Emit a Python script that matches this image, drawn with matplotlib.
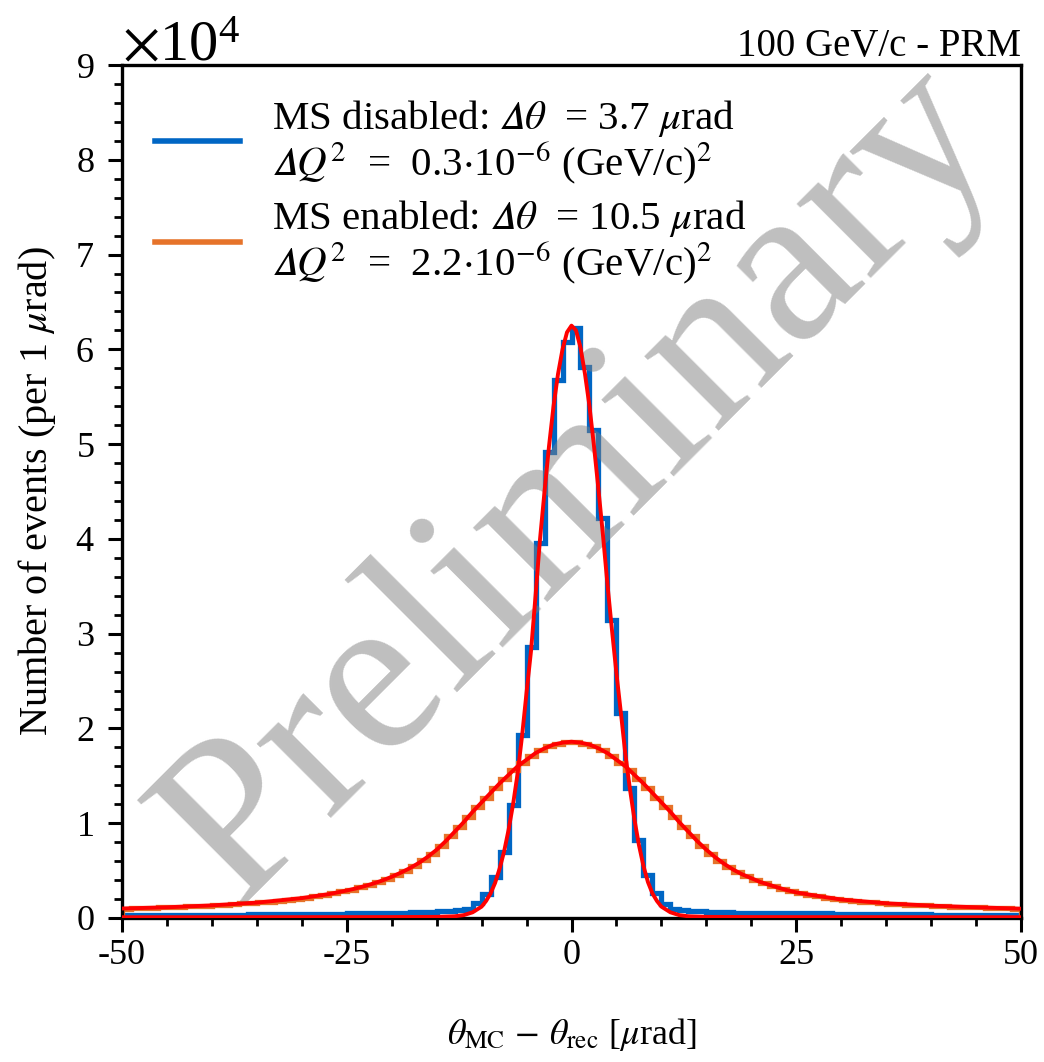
import numpy as np
import matplotlib
matplotlib.use("Agg")
import matplotlib.pyplot as plt
from matplotlib.lines import Line2D

# ---------------- data (counts in units of 1e4, bins of 1 urad) ----------------
SCALE = 1e4
BIN_EDGES = list(range(-50, 51))

# MS disabled (blue), bins [-50,-49] ... [49,50]
BLUE = [0.03, 0.03, 0.03, 0.03, 0.03, 0.03, 0.03, 0.03, 0.03, 0.03,
        0.03, 0.03, 0.03, 0.03, 0.04, 0.04, 0.04, 0.04, 0.04, 0.04,
        0.04, 0.04, 0.04, 0.04, 0.04, 0.05, 0.05, 0.05, 0.05, 0.05,
        0.05, 0.05, 0.06, 0.06, 0.06, 0.07, 0.07, 0.08, 0.10, 0.16,
        0.25, 0.43, 0.70, 1.19, 1.93, 2.86, 3.96, 4.92, 5.68, 6.08,
        6.22, 5.81, 5.15, 4.22, 3.14, 2.16, 1.37, 0.82, 0.45, 0.26,
        0.15, 0.10, 0.08, 0.07, 0.07, 0.06, 0.06, 0.06, 0.05, 0.05,
        0.05, 0.05, 0.05, 0.05, 0.05, 0.05, 0.05, 0.05, 0.05, 0.04,
        0.04, 0.04, 0.04, 0.04, 0.04, 0.04, 0.04, 0.04, 0.04, 0.04,
        0.03, 0.03, 0.03, 0.03, 0.03, 0.03, 0.03, 0.03, 0.03, 0.03]

# MS enabled (orange)
ORANGE = [0.100, 0.103, 0.106, 0.109, 0.112, 0.115, 0.119, 0.123, 0.127, 0.131,
          0.136, 0.141, 0.147, 0.153, 0.159, 0.166, 0.174, 0.183, 0.193, 0.204,
          0.216, 0.230, 0.245, 0.262, 0.280, 0.300, 0.325, 0.350, 0.380, 0.415,
          0.455, 0.500, 0.550, 0.610, 0.680, 0.760, 0.860, 0.960, 1.070, 1.170,
          1.270, 1.370, 1.470, 1.560, 1.640, 1.710, 1.770, 1.810, 1.840, 1.860,
          1.860, 1.840, 1.810, 1.770, 1.710, 1.640, 1.560, 1.470, 1.370, 1.270,
          1.170, 1.070, 0.960, 0.860, 0.760, 0.680, 0.600, 0.540, 0.490, 0.440,
          0.400, 0.365, 0.335, 0.305, 0.280, 0.260, 0.245, 0.230, 0.215, 0.200,
          0.190, 0.180, 0.172, 0.165, 0.158, 0.152, 0.146, 0.141, 0.136, 0.132,
          0.128, 0.124, 0.120, 0.117, 0.114, 0.111, 0.108, 0.105, 0.102, 0.099]

# fit curves (red), sampled
FIT_NARROW_X = [-50, -30, -20, -15, -13, -12, -11, -10, -9.5, -9, -8.5, -8, -7.5, -7,
                -6.5, -6, -5.5, -5, -4.5, -4, -3.5, -3, -2.5, -2, -1.5, -1, -0.5, 0,
                0.5, 1, 1.5, 2, 2.5, 3, 3.5, 4, 4.5, 5, 5.5, 6, 6.5, 7, 7.5, 8,
                8.5, 9, 9.5, 10, 11, 12, 13, 15, 20, 30, 50]
FIT_NARROW_Y = [0.008, 0.009, 0.010, 0.012, 0.018, 0.03, 0.06, 0.12, 0.18, 0.26, 0.37, 0.52, 0.70, 0.93,
                1.20, 1.52, 1.92, 2.38, 2.82, 3.40, 4.00, 4.50, 4.98, 5.40, 5.74, 6.00, 6.18, 6.25,
                6.20, 6.02, 5.74, 5.40, 4.98, 4.52, 4.04, 3.52, 3.04, 2.58, 2.16, 1.72, 1.36, 1.04, 0.77, 0.55,
                0.38, 0.26, 0.18, 0.12, 0.06, 0.03, 0.018, 0.012, 0.010, 0.009, 0.008]

FIT_WIDE_X = [-50, -45, -40, -35, -30, -27, -25, -24, -23, -22, -21, -20, -19, -18, -17, -16,
              -15, -14, -13, -12, -11, -10, -9, -8, -7, -6, -5, -4, -3, -2, -1, 0,
              1, 2, 3, 4, 5, 6, 7, 8, 9, 10, 11, 12, 13, 14, 15, 16, 17, 18, 19, 20,
              21, 22, 23, 24, 25, 27, 30, 35, 40, 45, 50]
FIT_WIDE_Y = [0.100, 0.113, 0.133, 0.162, 0.210, 0.252, 0.290, 0.312, 0.337, 0.365, 0.397, 0.435, 0.478, 0.525, 0.580, 0.645,
              0.720, 0.810, 0.910, 1.010, 1.120, 1.220, 1.320, 1.420, 1.510, 1.600, 1.670, 1.740, 1.790, 1.830, 1.850, 1.860,
              1.850, 1.830, 1.790, 1.740, 1.670, 1.600, 1.510, 1.420, 1.320, 1.220, 1.120, 1.010, 0.910, 0.810, 0.720, 0.640, 0.570, 0.510, 0.460, 0.420,
              0.380, 0.350, 0.320, 0.293, 0.270, 0.238, 0.195, 0.155, 0.130, 0.113, 0.098]

DELTA = "\U0001D6E5"  # mathematical italic capital delta
LABEL_BLUE = ("MS disabled: $" + DELTA + "\\theta$  = 3.7 $\\mu$rad\n"
              "$" + DELTA + "Q^2$  =  0.3$\\cdot$10$^{-6}$ (GeV/c)$^2$")
LABEL_ORANGE = ("MS enabled: $" + DELTA + "\\theta$  = 10.5 $\\mu$rad\n"
                "$" + DELTA + "Q^2$  =  2.2$\\cdot$10$^{-6}$ (GeV/c)$^2$")
XTICKS = [-50, -25, 0, 25, 50]
XTICKLABELS = ["-50", "-25", "0", "25", "50"]

# ---------------- style ----------------
plt.rcParams['font.family'] = ['Liberation Serif', 'DejaVu Serif']
plt.rcParams['mathtext.fontset'] = 'stix'
plt.rcParams['axes.unicode_minus'] = False

C_BLUE = '#0066c4'
C_ORANGE = '#e6732a'

fig = plt.figure(figsize=(10.44, 10.62), dpi=100)
ax = fig.add_axes([122/1044, 1-918/1062, 899/1044, 853/1062])

scale = np.array(SCALE)
ax.stairs(np.array(BLUE) * scale, BIN_EDGES, color=C_BLUE, lw=3.8, zorder=2)
ax.stairs(np.array(ORANGE) * scale, BIN_EDGES, color=C_ORANGE, lw=3.8, zorder=2)

ax.text(0.51, 0.508, "Preliminary", transform=ax.transAxes, rotation=45,
        ha='center', va='center', fontsize=165, color='#808080', alpha=0.5,
        zorder=3, rotation_mode='anchor')

ax.plot(FIT_NARROW_X, np.array(FIT_NARROW_Y) * scale, color='#ff0000', lw=2.8, zorder=4)
ax.plot(FIT_WIDE_X, np.array(FIT_WIDE_Y) * scale, color='#ff0000', lw=2.8, zorder=4)

ax.set_xlim(-50, 50)
ax.set_ylim(0, 9e4)
ax.set_xticks(XTICKS)
ax.set_xticklabels(XTICKLABELS)
ax.set_xticks(np.arange(-50, 51, 5), minor=True)
ax.set_yticks(np.arange(0, 9.01e4, 1e4))
ax.set_yticks(np.arange(0, 9.01e4, 0.2e4), minor=True)

fmt = matplotlib.ticker.ScalarFormatter(useMathText=True)
fmt.set_powerlimits((0, 0))
ax.yaxis.set_major_formatter(fmt)
ax.yaxis.get_offset_text().set_fontsize(42)

for s in ax.spines.values():
    s.set_linewidth(2.4)
ax.tick_params(which='major', direction='out', length=10, width=2.2, labelsize=26)
ax.tick_params(which='minor', direction='out', length=5.5, width=2.0)
ax.tick_params(axis='y', which='major', pad=10)
ax.tick_params(axis='x', which='major', pad=5)

ax.set_xlabel("$\\theta_{\\mathrm{MC}}\\,-\\,\\theta_{\\mathrm{rec}}$ [$\\mu$rad]", fontsize=26, labelpad=32)
ax.set_ylabel("Number of events (per 1 $\\mu$rad)", fontsize=29, labelpad=12)
ax.set_title("100 GeV/c - PRM", loc='right', fontsize=28, pad=6)

handles = [Line2D([], [], color=C_BLUE, lw=4), Line2D([], [], color=C_ORANGE, lw=4)]
leg = ax.legend(handles, [LABEL_BLUE, LABEL_ORANGE], loc='upper left', frameon=False,
                fontsize=29.5, handlelength=2.07, handletextpad=0.78, borderaxespad=0.4,
                labelspacing=0.3)
for t in leg.get_texts():
    t.set_linespacing(1.0)

fig.savefig("out.png", dpi=100)
